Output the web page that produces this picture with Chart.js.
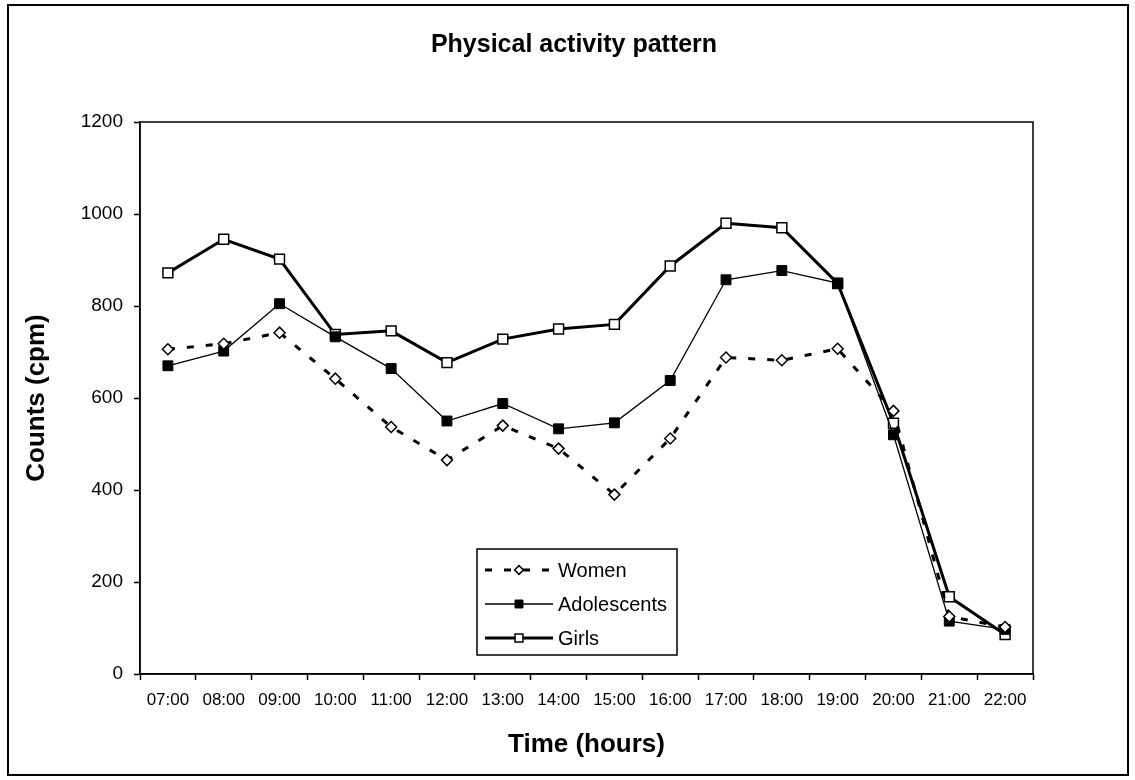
<!DOCTYPE html>
<html>
<head>
<meta charset="utf-8">
<title>Physical activity pattern</title>
<script src="https://cdn.jsdelivr.net/npm/chart.js@4.4.1/dist/chart.umd.min.js"></script>
<style>
  html, body { margin: 0; padding: 0; background: #fff; }
  canvas { display: block; }
</style>
</head>
<body>
<canvas id="activityChart" width="1135" height="780"></canvas>
<script>
// values
const hours = ['07:00', '08:00', '09:00', '10:00', '11:00', '12:00', '13:00', '14:00',
               '15:00', '16:00', '17:00', '18:00', '19:00', '20:00', '21:00', '22:00'];
const women = [706, 718, 742, 642, 537, 465, 540, 490, 390, 512, 688, 682, 707, 572, 125, 102];
const adolescents = [670, 702, 805, 733, 664, 550, 588, 533, 546, 638, 857, 877, 850, 520, 115, 97];
const girls = [872, 945, 902, 738, 746, 677, 728, 750, 760, 887, 980, 970, 849, 545, 168, 86];
const yTicks = [0, 200, 400, 600, 800, 1000, 1200];

const chartTitle = 'Physical activity pattern';
const FONT = "'Liberation Sans', Arial, sans-serif";

// frame, title and the legend box are drawn by hand
const decorPlugin = {
    id: 'decor',
    beforeDraw(chart) {
        const ctx = chart.ctx;
        ctx.save();
        ctx.fillStyle = '#fff';
        ctx.fillRect(0, 0, chart.width, chart.height);
        ctx.restore();
    },
    afterDraw(chart) {
        const ctx = chart.ctx;
        const area = chart.chartArea;
        ctx.save();
        // outer frame
        ctx.strokeStyle = '#000';
        ctx.lineWidth = 2;
        ctx.strokeRect(8, 5, chart.width - 15, chart.height - 10);
        // plot frame
        ctx.lineWidth = 1.5;
        ctx.strokeRect(area.left, area.top, area.right - area.left, area.bottom - area.top);
        // title
        ctx.fillStyle = '#000';
        ctx.font = 'bold 25px ' + FONT;
        ctx.textAlign = 'center';
        ctx.textBaseline = 'middle';
        ctx.fillText(chartTitle, 574, 45);
        drawLegend(chart);
        ctx.restore();
    }
};

function drawMarker(ctx, style, x, y, r, fill, stroke, lw) {
    ctx.beginPath();
    if (style === 'rectRot') {
        ctx.moveTo(x, y - r);
        ctx.lineTo(x + r, y);
        ctx.lineTo(x, y + r);
        ctx.lineTo(x - r, y);
        ctx.closePath();
    } else {
        const s = r * Math.SQRT1_2;
        ctx.rect(x - s, y - s, 2 * s, 2 * s);
    }
    ctx.setLineDash([]);
    ctx.fillStyle = fill;
    ctx.fill();
    ctx.lineWidth = lw;
    ctx.strokeStyle = stroke;
    ctx.stroke();
}

function drawLegend(chart) {
    const ctx = chart.ctx;
    const box = { x: 477, y: 549, w: 200, h: 106 };
    ctx.save();
    ctx.fillStyle = '#fff';
    ctx.fillRect(box.x, box.y, box.w, box.h);
    ctx.strokeStyle = '#000';
    ctx.lineWidth = 1.5;
    ctx.strokeRect(box.x, box.y, box.w, box.h);

    chart.data.datasets.forEach((ds, i) => {
        const y = 570 + i * 34;
        ctx.beginPath();
        ctx.setLineDash(ds.borderDash || []);
        ctx.lineWidth = ds.borderWidth;
        ctx.strokeStyle = ds.borderColor;
        ctx.moveTo(485, y);
        ctx.lineTo(553, y);
        ctx.stroke();
        drawMarker(ctx, ds.pointStyle, 519, y, ds.pointRadius * 0.8,
                   ds.pointBackgroundColor, ds.pointBorderColor, ds.pointBorderWidth);
        ctx.fillStyle = '#000';
        ctx.font = '20px ' + FONT;
        ctx.textAlign = 'left';
        ctx.textBaseline = 'middle';
        ctx.fillText(ds.label, 558, y + 1);
    });
    ctx.restore();
}

function initActivityChart() {
    const ctx = document.getElementById('activityChart').getContext('2d');
    new Chart(ctx, {
        type: 'line',
        data: {
            labels: hours,
            datasets: [{
                label: 'Women',
                data: women,
                borderColor: '#000',
                borderWidth: 3,
                borderDash: [7, 12],
                pointStyle: 'rectRot',
                pointRadius: 5.5,
                pointBackgroundColor: '#fff',
                pointBorderColor: '#000',
                pointBorderWidth: 1.5,
                tension: 0
            }, {
                label: 'Adolescents',
                data: adolescents,
                borderColor: '#000',
                borderWidth: 1.3,
                pointStyle: 'rect',
                pointRadius: 7,
                pointBackgroundColor: '#000',
                pointBorderColor: '#000',
                pointBorderWidth: 1,
                tension: 0
            }, {
                label: 'Girls',
                data: girls,
                borderColor: '#000',
                borderWidth: 3,
                pointStyle: 'rect',
                pointRadius: 7,
                pointBackgroundColor: '#fff',
                pointBorderColor: '#000',
                pointBorderWidth: 1.5,
                tension: 0
            }]
        },
        options: {
            responsive: false,
            animation: false,
            events: [],
            layout: { padding: { top: 122, right: 102, left: 0, bottom: 0 } },
            plugins: {
                legend: { display: false },
                title: { display: false },
                tooltip: { enabled: false }
            },
            scales: {
                x: {
                    type: 'category',
                    offset: true,
                    grid: { offset: true, drawOnChartArea: false, tickLength: 6, tickColor: '#000', tickWidth: 1.5 },
                    border: { color: '#000', width: 1.5 },
                    ticks: { color: '#000', font: { family: FONT, size: 17 }, padding: 10, maxRotation: 0, autoSkip: false },
                    title: { display: true, text: 'Time (hours)', color: '#000',
                             font: { family: FONT, size: 26, weight: 'bold' }, padding: { top: 0, bottom: 20 } },
                    afterFit: s => { s.height = 106; }
                },
                y: {
                    min: 0,
                    max: 1200,
                    afterBuildTicks: s => { s.ticks = yTicks.map(v => ({ value: v })); },
                    grid: { drawOnChartArea: false, tickLength: 6, tickColor: '#000', tickWidth: 1.5 },
                    border: { color: '#000', width: 1.5 },
                    ticks: { color: '#000', font: { family: FONT, size: 19 }, padding: 11,
                             callback: v => String(v) },
                    title: { display: true, text: 'Counts (cpm)', color: '#000',
                             font: { family: FONT, size: 26, weight: 'bold' }, padding: { top: 21, bottom: 0 } },
                    afterFit: s => { s.width = 140; }
                }
            }
        },
        plugins: [decorPlugin]
    });
}

initActivityChart();
</script>
</body>
</html>
